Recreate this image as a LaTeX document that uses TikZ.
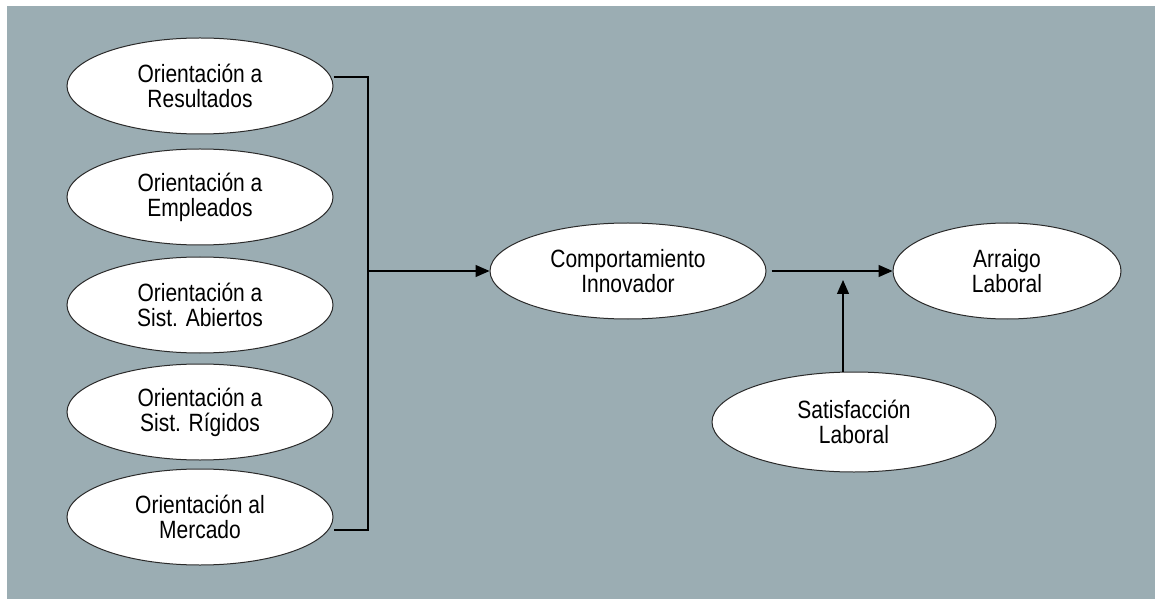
\documentclass[tikz,border=0pt]{standalone}
\usepackage{fontspec}
\setmainfont{Liberation Sans}[FakeStretch=0.84]
\usetikzlibrary{shapes.geometric,arrows.meta}
\definecolor{cBack}{HTML}{9BADB3}
\definecolor{cLine}{HTML}{2A2A2A}
\tikzset{>={Triangle[length=14pt,width=12pt]}}
\tikzset{factor/.style={ellipse, draw=cLine, fill=white, line width=1pt, inner sep=0pt,
		minimum width=#1, minimum height=96pt, align=center,
		font=\fontsize{25}{25}\selectfont}}

\begin{document}
\begin{tikzpicture}[x=1pt, y=-1pt]
		\useasboundingbox (0,0) rectangle (1158,601);
		%background
		\fill [white] (0,0) rectangle (1158,601);
		\fill [cBack] (7,6) rectangle (1155,599);
		
		%cultura
		\node [factor=266pt] (ores) at (200,86) {Orientación a\\Resultados};
		\node [factor=266pt] (oemp) at (200,197) {Orientación a\\Empleados};
		\node [factor=266pt] (osab) at (200,305) {Orientación a\\Sist. Abiertos};
		\node [factor=266pt] (osri) at (200,412) {Orientación a\\Sist. Rígidos};
		\node [factor=266pt] (omer) at (200,517) {Orientación al\\Mercado};
		
		%centro y derecha
		\node [factor=276pt] (cinn) at (628,271) {Comportamiento\\Innovador};
		\node [factor=228pt] (arla) at (1007,271) {Arraigo\\Laboral};
		\node [factor=284pt, minimum height=100pt] (sala) at (854,422) {Satisfacción\\Laboral};
		
		\coordinate (junta) at (368,271);
		\coordinate (medio) at (843,280);
		
		%conectores
		\draw [line width=1.2pt] ([yshift=9pt]ores.east) -| (junta) |- ([yshift=-13pt]omer.east);
		\draw [line width=1.2pt, ->] (junta) -- (cinn.west);
		\draw [line width=1.2pt, ->] ([xshift=5pt]cinn.east) -- (arla.west);
		\draw [line width=1.2pt, ->] (sala.north -| medio) -- (medio);
		
\end{tikzpicture}
\end{document}
